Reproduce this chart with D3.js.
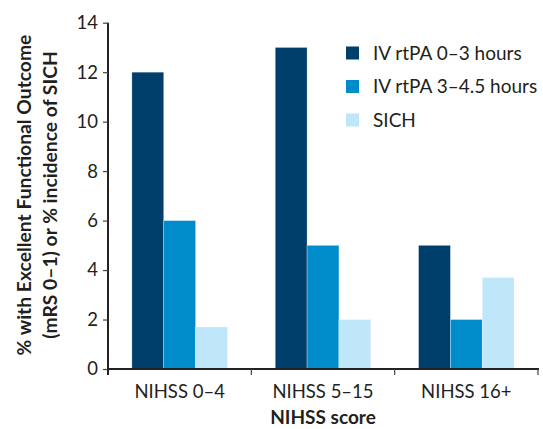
<!DOCTYPE html>
<html><head><meta charset="utf-8">
<script src="https://cdn.jsdelivr.net/npm/d3@7"></script>
<style>body{margin:0;background:#fff}</style>
</head><body>
<svg id="c" width="543" height="429"></svg>
<script>
const categories = ["NIHSS 0–4", "NIHSS 5–15", "NIHSS 16+"];
const seriesNames = ["IV rtPA 0–3 hours", "IV rtPA 3–4.5 hours", "SICH"];
const series0to3 = [12, 13, 5];
const series3to45 = [6, 5, 2];
const seriesSICH = [1.7, 2, 3.7];
const yTicks = [0, 2, 4, 6, 8, 10, 12, 14];
const colors = ["#003f6b", "#008bcb", "#bfe6f9"];

(function () {
const allSeries = [series0to3, series3to45, seriesSICH];
const svg = d3.select("#c");
const font = "Lato, sans-serif";
const txt = "#231f20";
const mLeft = 108, mRight = 538, mTop = 22.7, mBottom = 369;

const y = d3.scaleLinear().domain([0, 14]).range([mBottom, mTop]);
const xOuter = d3.scaleBand().domain(categories).range([mLeft, mRight]).padding(0);
const x0 = d3.scaleBand().domain(categories).range([mLeft, mRight]).paddingInner(1/3).paddingOuter(1/6);
const x1 = d3.scaleBand().domain(d3.range(3)).range([0, x0.bandwidth()]).padding(0);

const g = svg.append("g");
categories.forEach((c, i) => {
  allSeries.forEach((s, j) => {
    g.append("rect")
      .attr("x", x0(c) + x1(j))
      .attr("y", y(s[i]))
      .attr("width", x1.bandwidth())
      .attr("height", y(0) - y(s[i]))
      .attr("fill", colors[j])
      .attr("stroke", "#ffffff").attr("stroke-width", 0.6).attr("stroke-opacity", 0.5);
  });
});

const yAxis = svg.append("g").attr("transform", `translate(${mLeft},0)`)
  .call(d3.axisLeft(y).tickValues(yTicks).tickSize(5).tickPadding(5));
yAxis.select(".domain").attr("stroke", "#222").attr("stroke-width", 2).attr("d", `M0,${mTop}V${mBottom+6}`);
yAxis.selectAll(".tick line").attr("stroke", "#444").attr("stroke-width", 1.2);
yAxis.selectAll("text").attr("font-family", font).attr("font-size", 18.5).attr("fill", txt);

const xAxis = svg.append("g").attr("transform", `translate(0,${mBottom})`);
xAxis.append("line").attr("x1", mLeft - 1).attr("x2", mRight + 1).attr("y1", 0).attr("y2", 0)
  .attr("stroke", "#222").attr("stroke-width", 2);
const bounds = categories.map(c => xOuter(c) + xOuter.bandwidth());
xAxis.selectAll(".bt").data(bounds).enter().append("line")
  .attr("x1", d => d).attr("x2", d => d).attr("y1", 0).attr("y2", 6)
  .attr("stroke", "#444").attr("stroke-width", 1.2);
xAxis.selectAll(".lbl").data(categories).enter().append("text")
  .attr("x", d => xOuter(d) + xOuter.bandwidth() / 2).attr("y", 29)
  .attr("text-anchor", "middle").attr("font-family", font).attr("font-size", 18.5).attr("fill", txt)
  .text(d => d);

svg.append("text").attr("x", (mLeft + mRight) / 2).attr("y", 424)
  .attr("text-anchor", "middle").attr("font-family", font).attr("font-weight", "bold")
  .attr("font-size", 19).attr("fill", txt).text("NIHSS score");

const yt = svg.append("text").attr("transform", `translate(0,195) rotate(-90)`)
  .attr("text-anchor", "middle").attr("font-family", font).attr("font-weight", "bold")
  .attr("font-size", 19.3).attr("fill", txt);
yt.append("tspan").attr("x", 0).attr("y", 31).text("% with Excellent Functional Outcome");
yt.append("tspan").attr("x", 0).attr("y", 57).text("(mRS 0–1) or % incidence of SICH");

const leg = svg.append("g");
seriesNames.forEach((n, i) => {
  const cy = 53 + i * 33.5;
  leg.append("rect").attr("x", 346).attr("y", cy - 6.5).attr("width", 13).attr("height", 13).attr("fill", colors[i]);
  leg.append("text").attr("x", 373).attr("y", cy).attr("dy", "0.35em")
    .attr("font-family", font).attr("font-size", 19).attr("fill", txt).text(n);
});
})();
</script>
</body></html>
